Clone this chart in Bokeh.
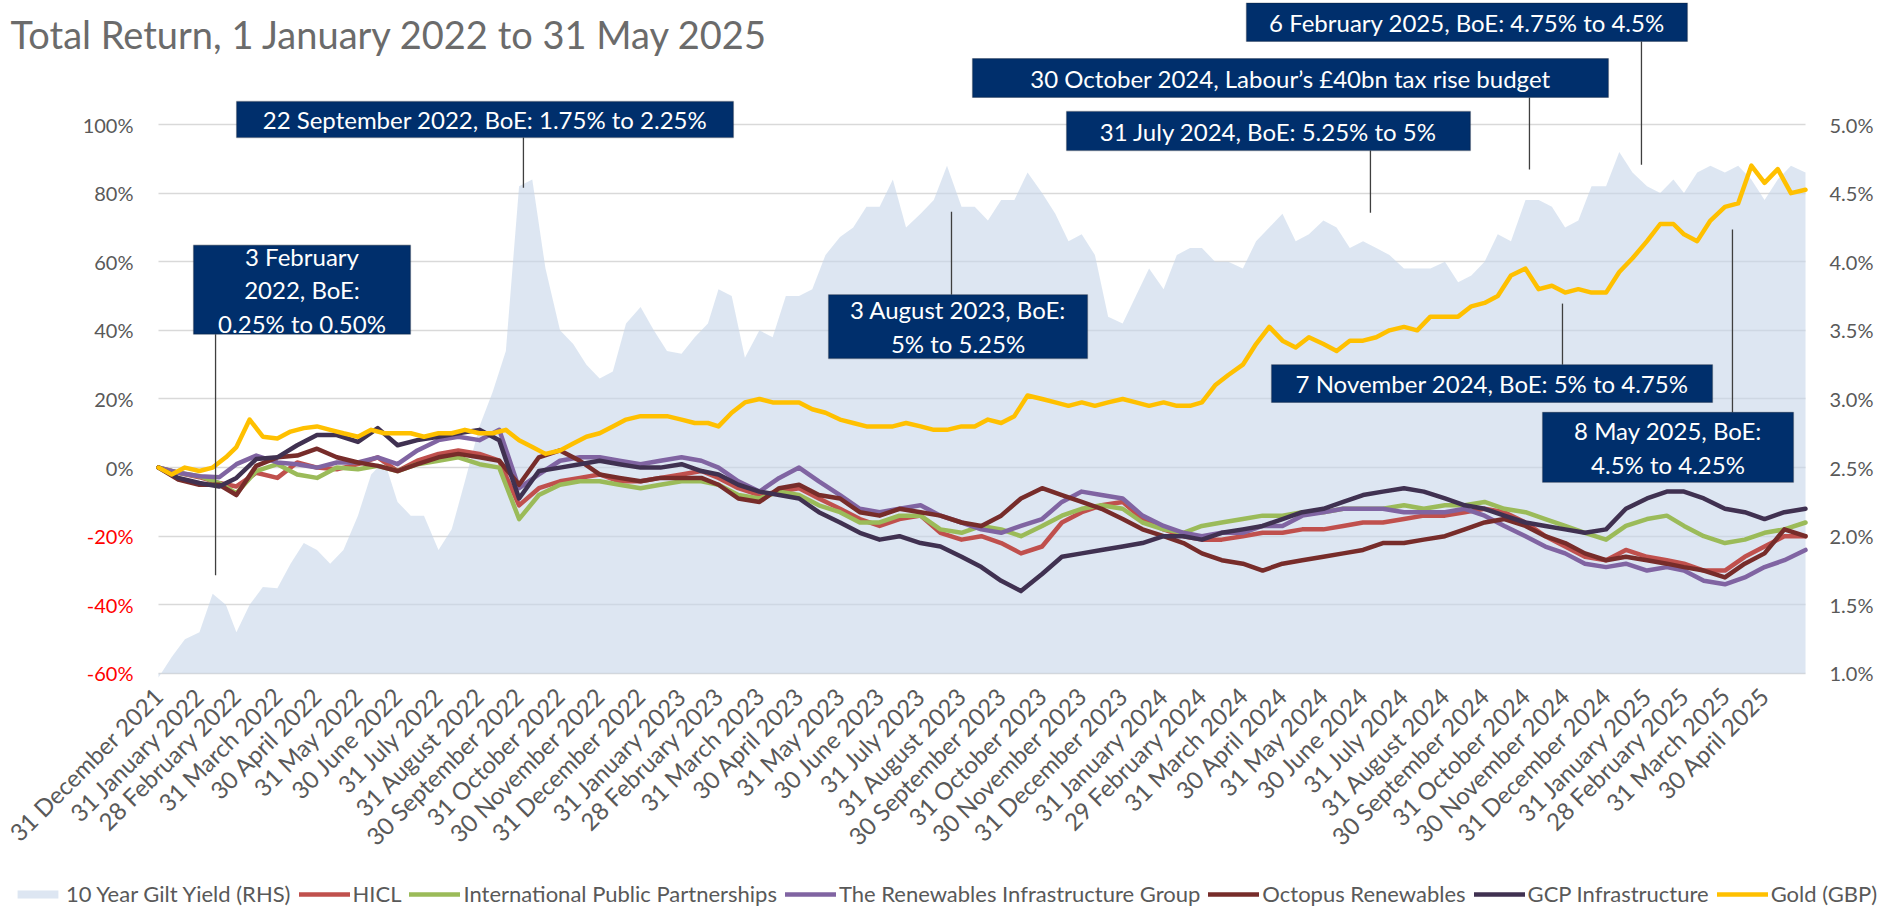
import pandas as pd
from bokeh.plotting import figure
from bokeh.models import (Range1d, LinearAxis, FixedTicker, Grid, Legend, LegendItem,
                          Label, BoxAnnotation, CustomJSTickFormatter)
from bokeh.embed import file_html
from bokeh.resources import INLINE

# ---------------- data ----------------
START = pd.Timestamp("2021-12-31")

tick_labels = [
    "31 December 2021",
    "31 January 2022", "28 February 2022", "31 March 2022", "30 April 2022", "31 May 2022", "30 June 2022",
    "31 July 2022", "31 August 2022", "30 September 2022", "31 October 2022", "30 November 2022", "31 December 2022",
    "31 January 2023", "28 February 2023", "31 March 2023", "30 April 2023", "31 May 2023", "30 June 2023",
    "31 July 2023", "31 August 2023", "30 September 2023", "31 October 2023", "30 November 2023", "31 December 2023",
    "31 January 2024", "29 February 2024", "31 March 2024", "30 April 2024", "31 May 2024", "30 June 2024",
    "31 July 2024", "31 August 2024", "30 September 2024", "31 October 2024", "30 November 2024", "31 December 2024",
    "31 January 2025", "28 February 2025", "31 March 2025", "30 April 2025",
]

# sampling months (Jan 2022 .. May 2025)
months = [(y, m) for y in range(2022, 2026) for m in range(1, 13) if (y, m) <= (2025, 5)]

# 10 Year Gilt Yield (%), sampled ~10th, ~20th, month end
gilt_yield = [0.97] + [
    # 2022
    1.12, 1.25, 1.30, 1.58, 1.50, 1.30, 1.50, 1.63, 1.62, 1.80, 1.95, 1.90,
    1.80, 1.90, 2.15, 2.45, 2.55, 2.25, 2.15, 2.15, 1.90, 2.05, 2.40, 2.80,
    3.05, 3.35, 4.55, 4.60, 3.95, 3.50, 3.40, 3.25, 3.15, 3.20, 3.55, 3.67,
    # 2023
    3.50, 3.35, 3.33, 3.45, 3.55, 3.80, 3.75, 3.30, 3.50, 3.45, 3.75, 3.75,
    3.80, 4.05, 4.18, 4.25, 4.40, 4.40, 4.60, 4.25, 4.35, 4.45, 4.70, 4.40,
    4.40, 4.30, 4.45, 4.45, 4.65, 4.50, 4.35, 4.15, 4.20, 4.05, 3.60, 3.55,
    # 2024
    3.75, 3.95, 3.80, 4.05, 4.10, 4.10, 4.00, 4.00, 3.95, 4.15, 4.25, 4.35,
    4.15, 4.20, 4.30, 4.25, 4.10, 4.15, 4.10, 4.05, 3.95, 3.95, 3.95, 4.00,
    3.85, 3.90, 4.00, 4.20, 4.15, 4.45, 4.45, 4.40, 4.25, 4.30, 4.55, 4.55,
    # 2025
    4.80, 4.65, 4.55, 4.50, 4.60, 4.50, 4.65, 4.70, 4.65, 4.70, 4.60, 4.45,
    4.60, 4.70, 4.65,
]

# Gold (GBP) total return (%), same sampling as gilt
gold = [0] + [
    -2, 0, -1, 0, 3, 6, 14, 9, 8.5, 10.5, 11.5, 12,
    11, 10, 9, 11, 10, 10, 10, 9, 10, 10, 11, 10,
    10, 11, 8, 6, 4, 5, 7, 9, 10, 12, 14, 15,
    15, 15, 14, 13, 13, 12, 16, 19, 20, 19, 19, 19,
    17, 16, 14, 13, 12, 12, 12, 13, 12, 11, 11, 12,
    12, 14, 13, 15, 21, 20, 19, 18, 19, 18, 19, 20,
    19, 18, 19, 18, 18, 19, 24, 27, 30, 36, 41, 37,
    35, 38, 36, 34, 37, 37, 38, 40, 41, 40, 44, 44,
    44, 47, 48, 50, 56, 58, 52, 53, 51, 52, 51, 51,
    57, 61, 66, 71, 71, 68, 66, 72, 76, 77, 88, 83,
    87, 80, 81,
]

# Total returns (%), sampled mid-month and month end
hicl = [0] + [
    -1.5, -2.8, -4.5, -5.5, -1.5, -3, 1.5, 0, -0.5, 1, 3, -1, 2, 4, 5, 4, 2, -11, -6, -4, -3, -2, -4, -4,
    -3, -2, -1, -3, -6, -8, -7, -6, -9, -12, -15, -17, -15, -14, -19, -21, -20, -22, -25, -23, -16, -13, -11, -10,
    -15, -18, -20, -21, -21, -20, -19, -19, -18, -18, -17, -16, -16, -15, -14, -14, -13, -12, -13, -16, -20, -23, -26, -27,
    -24, -26, -27, -28, -30, -30, -26, -23, -20, -20,
]
inpp = [0] + [
    -1.5, -2.5, -4.5, -7.5, -1, 1, -2, -3, 0, -0.5, 0.5, -1, 1, 2, 3, 1, 0, -15, -8, -5, -4, -4, -5, -6,
    -5, -4, -4, -5, -8, -9, -7, -8, -11, -13, -16, -16, -14, -14, -18, -19, -17, -18, -20, -17, -14, -12, -11, -12,
    -16, -18, -19, -17, -16, -15, -14, -14, -13, -13, -12, -12, -12, -11, -12, -11, -11, -10, -12, -13, -15, -17, -19, -21,
    -17, -15, -14, -17, -20, -22, -21, -19, -18, -16,
]
trig = [0] + [
    -1.5, -2.5, -2.8, 1, 3.5, 1.5, 1, 0, 1.5, 1.5, 3, 1, 5, 8, 9, 8, 11, -6, -2, 2, 3, 3, 2, 1,
    2, 3, 2, 0, -4, -7, -3, 0, -4, -8, -12, -13, -12, -11, -14, -16, -18, -19, -17, -15, -10, -7, -8, -9,
    -14, -17, -19, -20, -19, -19, -17, -17, -14, -13, -12, -12, -12, -13, -13, -13, -12, -14, -17, -20, -23, -25, -28, -29,
    -28, -30, -29, -30, -33, -34, -32, -29, -27, -24,
]
octopus = [0] + [
    -3.5, -5, -5, -8, 0.5, 3, 3.5, 5.5, 3, 1.5, 0.5, -1, 1, 3, 4, 3, 2, -5, 3, 5, 2, -2, -3, -4,
    -3, -3, -3, -5, -9, -10, -6, -5, -8, -9, -13, -14, -12, -13, -14, -16, -17, -14, -9, -6, -8, -10, -12, -15,
    -18, -20, -22, -25, -27, -28, -30, -28, -27, -26, -25, -24, -22, -22, -21, -20, -18, -16, -15, -17, -20, -22, -25, -27,
    -26, -27, -28, -29, -30, -32, -28, -25, -18, -20,
]
gcp = [0] + [
    -3, -4.5, -5.5, -3, 2.5, 3, 6.5, 9.5, 9.5, 7.5, 11.5, 6.5, 8, 9, 10, 11, 8, -9, -1, 0, 1, 2, 1, 0,
    0, 1, -1, -2, -5, -7, -8, -9, -13, -16, -19, -21, -20, -22, -23, -26, -29, -33, -36, -31, -26, -25, -24, -23,
    -22, -20, -20, -21, -19, -18, -17, -15, -13, -12, -10, -8, -7, -6, -7, -9, -11, -12, -14, -16, -17, -18, -19, -18,
    -12, -9, -7, -7, -9, -12, -13, -15, -13, -12,
]

series_names = ["HICL", "International Public Partnerships", "The Renewables Infrastructure Group",
                "Octopus Renewables", "GCP Infrastructure", "Gold (GBP)"]

annotations = [
    "22 September 2022, BoE: 1.75% to 2.25%",
    "3 February\n2022, BoE:\n0.25% to 0.50%",
    "3 August 2023, BoE:\n5% to 5.25%",
    "30 October 2024, Labour\u2019s \u00a340bn tax rise budget",
    "31 July 2024, BoE: 5.25% to 5%",
    "6 February 2025, BoE: 4.75% to 4.5%",
    "7 November 2024, BoE: 5% to 4.75%",
    "8 May 2025, BoE:\n4.5% to 4.25%",
]

# ---------------- layout (positions in axis units) ----------------
# box: (left day, right day, top %, bottom %); leader: (day, y from %, y to %)
ann_layout = [
    dict(box=(59.1, 435.3, 106.7, 96.2), lead=(276.3, 96.2, 81.6)),
    dict(box=(26.5, 190.8, 64.8, 38.9), lead=(43.2, 38.9, -31.4)),
    dict(box=(507.3, 703.4, 50.4, 31.8), lead=(600.4, 50.4, 74.6)),
    dict(box=(616.3, 1097.8, 119.2, 107.9), lead=(1038.0, 107.9, 86.9)),
    dict(box=(687.5, 993.3, 103.8, 92.4), lead=(917.6, 92.4, 74.3)),
    dict(box=(823.7, 1157.6, 135.4, 124.2), lead=(1122.8, 124.2, 88.3)),
    dict(box=(842.7, 1176.6, 30.0, 19.0), lead=(1063.0, 30.0, 47.8)),
    dict(box=(1047.9, 1237.9, 16.1, -4.3), lead=(1191.7, 16.1, 69.4)),
]

# frame covers the whole canvas; data area is day 0..x_end, -60%..100%
W, H = 1891, 907
PLOT_L, PLOT_R = 158, 1805          # px of day 0 and last day
PX_PER_PCT = 3.431
Y_TOP = 100 + 124 / PX_PER_PCT      # 100% gridline at y=124 px


def month_end(y, m):
    return pd.Timestamp(y, m, 1) + pd.offsets.MonthEnd(0)


grid3 = [START] + [d for (y, m) in months
                   for d in (pd.Timestamp(y, m, 10), pd.Timestamp(y, m, 20), month_end(y, m))]
grid2 = [START] + [d for (y, m) in months for d in (pd.Timestamp(y, m, 15), month_end(y, m))]
days3 = [(d - START).days for d in grid3]
days2 = [(d - START).days for d in grid2]
tick_days = [(pd.to_datetime(s, format="%d %B %Y") - START).days for s in tick_labels]
x_end = (pd.Timestamp("2025-05-31") - START).days

px_day = (PLOT_R - PLOT_L) / x_end
x_lo = -PLOT_L / px_day
x_hi = x_end + (W - PLOT_R) / px_day
y_lo = Y_TOP - H / PX_PER_PCT

FONT = "Lato"
GREY = "#595959"

p = figure(width=W, height=H, output_backend="svg", toolbar_location=None,
           x_range=Range1d(x_lo, x_hi), y_range=Range1d(y_lo, Y_TOP),
           x_axis_location=None, y_axis_location=None,
           min_border_left=0, min_border_right=0, min_border_top=0, min_border_bottom=0,
           outline_line_color=None, background_fill_color="white", border_fill_color="white")
p.extra_y_ranges = {"gilt": Range1d(1.0 + (y_lo + 60) / 40.0, 1.0 + (Y_TOP + 60) / 40.0)}
p.grid.visible = False

p.add_layout(Grid(dimension=1, ticker=FixedTicker(ticks=[-60, -40, -20, 0, 20, 40, 60, 80, 100]),
                  cross_bounds=(0, x_end), grid_line_color="#d9d9d9", grid_line_width=1.5))

# gilt area (right axis)
area = p.varea(x=days3, y1=[1.0] * len(days3), y2=gilt_yield, y_range_name="gilt",
               fill_color="#c6d5ea", fill_alpha=0.6)

colors = ["#c0504d", "#9bbb59", "#8064a2", "#772c2a", "#403151", "#ffc000"]
lines = []
for xs, ys, c in [(days2, hicl, colors[0]), (days2, inpp, colors[1]), (days2, trig, colors[2]),
                  (days2, octopus, colors[3]), (days2, gcp, colors[4]), (days3, gold, colors[5])]:
    lines.append(p.line(xs, ys, line_color=c, line_width=4.5, line_join="round", line_cap="round"))

# leader lines
p.segment(x0=[a["lead"][0] for a in ann_layout], y0=[a["lead"][1] for a in ann_layout],
          x1=[a["lead"][0] for a in ann_layout], y1=[a["lead"][2] for a in ann_layout],
          line_color="#3f3f3f", line_width=1.3)

for txt, a in zip(annotations, ann_layout):
    l, r, t, b = a["box"]
    p.add_layout(BoxAnnotation(left=l, right=r, top=t, bottom=b, fill_color="#002f6c", fill_alpha=1.0,
                               line_color="#111a2b", line_width=1.3))
    p.add_layout(Label(x=(l + r) / 2, y=(t + b) / 2, text=txt, text_align="center", text_baseline="middle",
                       text_color="white", text_font=FONT, text_font_size="24px", text_line_height=1.15))


def style_axis(ax, color=GREY, standoff=19, size="20px"):
    ax.axis_line_color = None
    ax.major_tick_line_color = None
    ax.minor_tick_line_color = None
    ax.major_label_text_font = FONT
    ax.major_label_text_font_size = size
    ax.major_label_text_color = color
    ax.major_label_standoff = standoff


ax_pos = LinearAxis(ticker=FixedTicker(ticks=[0, 20, 40, 60, 80, 100]), fixed_location=0,
                    formatter=CustomJSTickFormatter(code="return tick.toFixed(0) + '%';"))
style_axis(ax_pos)
p.add_layout(ax_pos, "left")

ax_neg = LinearAxis(ticker=FixedTicker(ticks=[-60, -40, -20]), fixed_location=0,
                    formatter=CustomJSTickFormatter(code="return tick.toFixed(0) + '%';"))
style_axis(ax_neg, color="#ff0000")
p.add_layout(ax_neg, "left")

ax_r = LinearAxis(y_range_name="gilt", fixed_location=x_end,
                  ticker=FixedTicker(ticks=[1.0, 1.5, 2.0, 2.5, 3.0, 3.5, 4.0, 4.5, 5.0]),
                  formatter=CustomJSTickFormatter(code="return tick.toFixed(1) + '%';"))
style_axis(ax_r, standoff=18)
p.add_layout(ax_r, "right")

ax_x = LinearAxis(ticker=FixedTicker(ticks=tick_days), fixed_location=-60,
                  major_label_overrides={d: s for d, s in zip(tick_days, tick_labels)},
                  major_label_orientation=0.785)
style_axis(ax_x, standoff=12, size="24px")
p.add_layout(ax_x, "below")

legend = Legend(items=[LegendItem(label="10 Year Gilt Yield (RHS)", renderers=[area])] +
                      [LegendItem(label=n, renderers=[r]) for n, r in zip(series_names, lines)],
                orientation="horizontal", nrows=1, location=(12, 0),
                label_text_font=FONT, label_text_font_size="22px", label_text_color=GREY,
                glyph_width=51, glyph_height=10, label_standoff=3, spacing=8,
                padding=0, margin=0, border_line_color=None, background_fill_alpha=0)
p.add_layout(legend)

p.add_layout(Label(x=x_lo + 10 / px_day, y=Y_TOP - 33 / PX_PER_PCT,
                   text="Total Return, 1 January 2022 to 31 May 2025",
                   text_font=FONT, text_font_size="38px", text_color="#6b6b6b", text_baseline="alphabetic"))

open("out.html", "w").write(file_html(p, INLINE))
